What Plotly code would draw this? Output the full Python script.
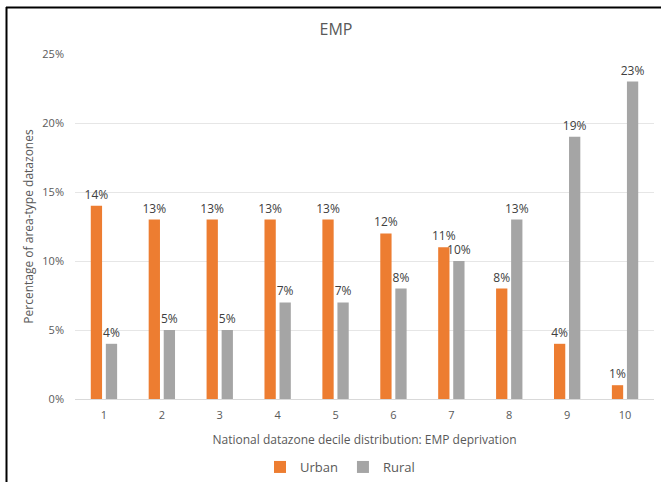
import plotly.graph_objects as go

deciles = ["1", "2", "3", "4", "5", "6", "7", "8", "9", "10"]
urban = [14, 13, 13, 13, 13, 12, 11, 8, 4, 1]
rural = [4, 5, 5, 7, 7, 8, 10, 13, 19, 23]
y_ticks = [0, 5, 10, 15, 20, 25]

FONT = "Open Sans, Segoe UI, sans-serif"
TEXT = "#595959"

fig = go.Figure()
for name, vals, color in [("Urban", urban, "#ED7D31"), ("Rural", rural, "#A5A5A5")]:
    fig.add_trace(go.Bar(
        name=name, x=deciles, y=[v / 100 for v in vals],
        marker=dict(color=color, line=dict(width=0)),
        text=[f"{v}%" for v in vals], textposition="outside",
        outsidetextfont=dict(size=12, color="#404040", family=FONT),
        constraintext="none",
        cliponaxis=False,
    ))

# plot area geometry in pixels, used for the outer frame lines
W, H = 661, 482
L, R, T, B = 75, 7, 54, 83
pw, ph = W - L - R, H - T - B

def px_x(x):
    return (x - L) / pw

def px_y(y):
    return (H - B - y) / ph

fig.update_layout(
    width=W, height=H,
    margin=dict(l=L, r=R, t=T, b=B, autoexpand=False),
    paper_bgcolor="white", plot_bgcolor="white",
    barmode="group", bargap=0.48, bargroupgap=0.25,
    font=dict(family=FONT, color=TEXT, size=11),
    title=dict(text="EMP", x=336 / W, xanchor="center",
               y=1 - 29.5 / H, yanchor="middle",
               font=dict(size=16, color=TEXT, family=FONT)),
    legend=dict(orientation="h", x=px_x(260), xanchor="left", y=px_y(467), yanchor="middle",
                font=dict(size=13, color=TEXT), itemwidth=30, traceorder="normal",
                tracegroupgap=0),
    xaxis=dict(
        range=[-0.5, 9.5], showline=True, linecolor="#D9D9D9", linewidth=1,
        automargin=False,
        ticks="", ticklabelstandoff=6, tickfont=dict(size=11, color=TEXT),
        title=dict(text="National datazone decile distribution: EMP deprivation",
                   font=dict(size=12, color=TEXT), standoff=14),
    ),
    yaxis=dict(
        range=[0, 0.25], tickvals=[v / 100 for v in y_ticks],
        ticktext=[f"{v}%" for v in y_ticks],
        automargin=False,
        showgrid=True, gridcolor="#E6E6E6", gridwidth=1, zeroline=False,
        ticks="", ticklen=0, ticklabelstandoff=10, tickfont=dict(size=11, color=TEXT),
        title=dict(text="Percentage of area-type datazones", font=dict(size=12, color=TEXT),
                   standoff=6),
    ),
    shapes=[
        dict(type="line", xref="paper", yref="paper", x0=px_x(6.5), x1=px_x(6.5),
             y0=px_y(7), y1=px_y(490), line=dict(color="black", width=2)),
        dict(type="line", xref="paper", yref="paper", x0=px_x(6), x1=px_x(670),
             y0=px_y(7.5), y1=px_y(7.5), line=dict(color="black", width=2)),
    ],
)

fig.write_html("out.html")
